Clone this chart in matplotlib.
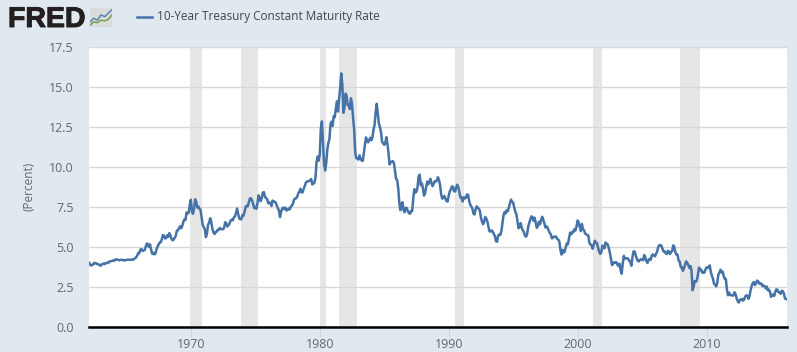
import numpy as np
import pandas as pd
import matplotlib
matplotlib.use('Agg')
import matplotlib.pyplot as plt
import matplotlib.patheffects as pe

plt.rcParams['font.family'] = ['Open Sans', 'DejaVu Sans']

# monthly rate, one row per year
r1960s = [4.08,4.04,3.93,3.84,3.87,3.91,4.01,3.98,3.98,3.93,3.92,3.86,
          3.83,3.92,3.93,3.97,3.93,3.99,4.02,4.00,4.08,4.11,4.12,4.13,
          4.17,4.15,4.22,4.23,4.20,4.17,4.19,4.19,4.20,4.19,4.15,4.18,
          4.19,4.21,4.21,4.20,4.21,4.21,4.20,4.25,4.29,4.35,4.45,4.62,
          4.61,4.83,4.87,4.75,4.78,4.81,5.02,5.22,5.18,5.01,5.16,4.84,
          4.58,4.63,4.54,4.59,4.85,5.02,5.16,5.28,5.30,5.48,5.75,5.70,
          5.53,5.56,5.74,5.64,5.87,5.72,5.50,5.42,5.46,5.58,5.70,6.03,
          6.04,6.19,6.30,6.17,6.32,6.57,6.72,6.69,7.16,7.10,7.14,7.65]
r1970s = [7.95,7.24,7.07,7.39,7.98,7.84,7.46,7.53,7.39,7.33,6.84,6.39,
          6.24,6.11,5.62,5.83,6.39,6.52,6.80,6.58,6.14,5.93,5.81,5.93,
          5.95,6.08,6.07,6.19,6.13,6.11,6.11,6.21,6.55,6.48,6.28,6.36,
          6.46,6.64,6.71,6.67,6.85,6.90,7.13,7.40,7.09,6.79,6.73,6.74,
          6.99,6.96,7.21,7.51,7.58,7.54,7.81,8.04,8.04,7.90,7.68,7.43,
          7.50,7.39,7.73,8.23,8.06,7.86,8.06,8.40,8.43,8.14,8.05,8.00,
          7.74,7.79,7.73,7.56,7.90,7.86,7.83,7.77,7.59,7.41,7.29,6.87,
          7.21,7.39,7.46,7.37,7.46,7.28,7.33,7.40,7.34,7.52,7.58,7.69,
          7.96,8.03,8.04,8.15,8.35,8.46,8.64,8.41,8.42,8.64,8.81,9.01,
          9.10,9.10,9.12,9.18,9.25,8.91,8.95,9.03,9.33,10.30,10.65,10.39]
r1980s = [10.80,12.41,12.85,11.47,10.18,9.78,10.25,11.10,11.51,11.75,12.68,12.84,
          12.57,13.19,13.12,13.68,14.10,13.47,14.28,14.94,15.85,15.15,13.39,13.72,
          14.59,14.43,13.86,13.87,13.62,14.30,13.95,13.06,12.34,10.91,10.55,10.54,
          10.46,10.72,10.51,10.40,10.38,10.85,11.38,11.85,11.65,11.54,11.69,11.83,
          11.67,11.84,12.32,12.63,13.41,13.95,13.36,12.72,12.52,12.16,11.57,11.50,
          11.38,11.51,11.86,11.43,10.85,10.16,10.31,10.33,10.37,10.24,9.78,9.26,
          9.19,8.70,7.78,7.30,7.71,7.80,7.30,7.17,7.45,7.43,7.25,7.11,
          7.08,7.25,7.25,8.02,8.61,8.40,8.45,8.76,9.42,9.52,8.86,8.99,
          8.67,8.21,8.37,8.72,9.09,8.92,9.06,9.26,8.98,8.80,8.96,9.11,
          9.09,9.17,9.36,9.18,8.86,8.28,8.02,8.11,8.19,8.01,7.87,7.84]
r1990s = [8.21,8.47,8.59,8.79,8.76,8.48,8.47,8.75,8.89,8.72,8.39,8.08,
          8.09,7.85,8.11,8.04,8.07,8.28,8.27,7.90,7.65,7.53,7.42,7.09,
          7.03,7.34,7.54,7.48,7.39,7.26,6.84,6.59,6.42,6.59,6.87,6.77,
          6.60,6.26,5.98,5.97,6.04,5.96,5.81,5.68,5.36,5.33,5.72,5.77,
          5.75,5.97,6.48,6.97,7.18,7.10,7.30,7.24,7.46,7.74,7.96,7.81,
          7.78,7.47,7.20,7.06,6.63,6.17,6.28,6.49,6.20,6.04,5.93,5.71,
          5.65,5.81,6.27,6.51,6.74,6.91,6.87,6.64,6.83,6.53,6.20,6.30,
          6.58,6.42,6.69,6.89,6.71,6.49,6.22,6.30,6.21,6.03,5.88,5.81,
          5.54,5.57,5.65,5.64,5.65,5.50,5.46,5.34,4.81,4.53,4.83,4.65,
          4.72,5.00,5.23,5.18,5.54,5.90,5.79,5.94,5.92,6.11,6.03,6.28]
r2000s = [6.66,6.52,6.26,5.99,6.44,6.10,6.05,5.83,5.80,5.74,5.72,5.24,
          5.16,5.10,4.89,5.14,5.39,5.28,5.24,4.97,4.73,4.57,4.65,5.09,
          5.04,4.91,5.28,5.21,5.16,4.93,4.65,4.26,3.87,3.94,4.05,4.03,
          4.05,3.90,3.81,3.96,3.57,3.33,3.98,4.45,4.27,4.29,4.30,4.27,
          4.15,4.08,3.83,4.35,4.72,4.73,4.50,4.28,4.13,4.10,4.19,4.23,
          4.22,4.17,4.50,4.34,4.14,4.00,4.18,4.26,4.20,4.46,4.54,4.47,
          4.42,4.57,4.72,4.99,5.11,5.11,5.09,4.88,4.72,4.73,4.60,4.56,
          4.76,4.72,4.56,4.69,4.75,5.10,5.00,4.67,4.52,4.53,4.15,4.10,
          3.74,3.74,3.51,3.68,3.88,4.10,4.01,3.89,3.69,3.81,3.53,2.30,
          2.52,2.87,2.82,2.93,3.29,3.72,3.56,3.59,3.40,3.39,3.40,3.59]
r2010s = [3.73,3.69,3.73,3.85,3.42,3.20,3.01,2.70,2.65,2.54,2.76,3.29,
          3.39,3.58,3.41,3.46,3.17,3.00,3.00,2.30,1.98,2.15,2.01,1.98,
          1.97,1.97,2.17,2.05,1.80,1.62,1.53,1.68,1.72,1.75,1.65,1.72,
          1.91,1.98,1.96,1.76,1.93,2.30,2.58,2.74,2.81,2.62,2.72,2.90,
          2.86,2.71,2.72,2.71,2.56,2.60,2.54,2.42,2.53,2.30,2.33,2.21,
          1.88,1.98,2.04,1.94,2.20,2.36,2.32,2.17,2.17,2.07,2.26,2.24,
          2.09,1.78,1.75]

rates = r1960s + r1970s + r1980s + r1990s + r2000s + r2010s
dates = pd.date_range('1962-01-01', periods=len(rates), freq='MS')
# turn dates into decimal years
years = dates.year + (dates.month - 1) / 12

rec_start = [1969.95, 1973.87, 1980.0, 1981.5, 1990.5, 2001.2, 2007.95]
rec_end = [1970.87, 1975.2, 1980.5, 1982.87, 1991.2, 2001.87, 2009.5]

yticks = [0, 2.5, 5, 7.5, 10, 12.5, 15, 17.5]
xticks = [1970, 1980, 1990, 2000, 2010]

bg = '#e1e9f0'
blue = '#4572a7'
W, H = 797, 352

fig = plt.figure(figsize=(W / 100, H / 100), dpi=100, facecolor=bg)
ax = fig.add_axes([89 / W, 1 - 327 / H, (787 - 89) / W, 280 / H])

for a, b in zip(rec_start, rec_end):
    ax.axvspan(a, b, color='#e6e6e6', lw=0, zorder=1)

ax.plot(years, rates, color=blue, lw=1.8, zorder=3, solid_joinstyle='round')

ax.set_xlim(1962.1, 2016.24)
ax.set_ylim(0, 17.5)
ax.set_yticks(yticks)
ax.set_yticklabels(['%.1f' % t for t in yticks])
ax.set_xticks(xticks)
ax.set_xticklabels([str(t) for t in xticks])
ax.yaxis.grid(True, color='#d8d8d8', lw=1, zorder=2)
ax.set_axisbelow(False)
ax.tick_params(axis='y', length=0, pad=11, labelsize=9, labelcolor='#666666')
ax.tick_params(axis='x', length=7, width=0.8, color='#ccd6eb', pad=1,
               labelsize=9, labelcolor='#666666')
for s in ['top', 'left', 'right']:
    ax.spines[s].set_visible(False)
ax.spines['bottom'].set_color('black')
ax.spines['bottom'].set_linewidth(1.8)
ax.spines['bottom'].set_zorder(5)

fig.text(29 / W, 1 - 186 / H, '(Percent)', rotation=90, color='#666666',
         fontsize=8.5, ha='center', va='center')

# title row
fig.add_artist(plt.Line2D([137 / W, 152 / W], [1 - 16.5 / H] * 2, color=blue, lw=1.8))
fig.text(157 / W, 1 - 16.5 / H, '10-Year Treasury Constant Maturity Rate',
         color='#444444', fontsize=8.5, ha='left', va='center')

# logo
logo = fig.text(8 / W, 1 - 27 / H, 'FRED', color='#231f20', fontsize=20.5,
                fontweight='bold', family='Liberation Sans', ha='left', va='baseline')
logo.set_path_effects([pe.withStroke(linewidth=0.7, foreground='#231f20')])
icon = fig.add_axes([90 / W, 1 - 27 / H, 22 / W, 19 / H], facecolor='#d9dcdc')
icon.plot([0, 1, 2, 3, 4, 5, 6], [3, 5, 4, 7, 6, 8, 10], color='#4f7cac', lw=1)
icon.plot([0, 1, 2, 3, 4, 5, 6], [1, 3, 2.5, 4, 3.5, 4.5, 7], color='#6f9a3c', lw=1)
icon.set_xlim(0, 6)
icon.set_ylim(0, 11)
icon.set_xticks([])
icon.set_yticks([])
for s in icon.spines.values():
    s.set_visible(False)

fig.savefig('out.png', dpi=100, facecolor=bg)
